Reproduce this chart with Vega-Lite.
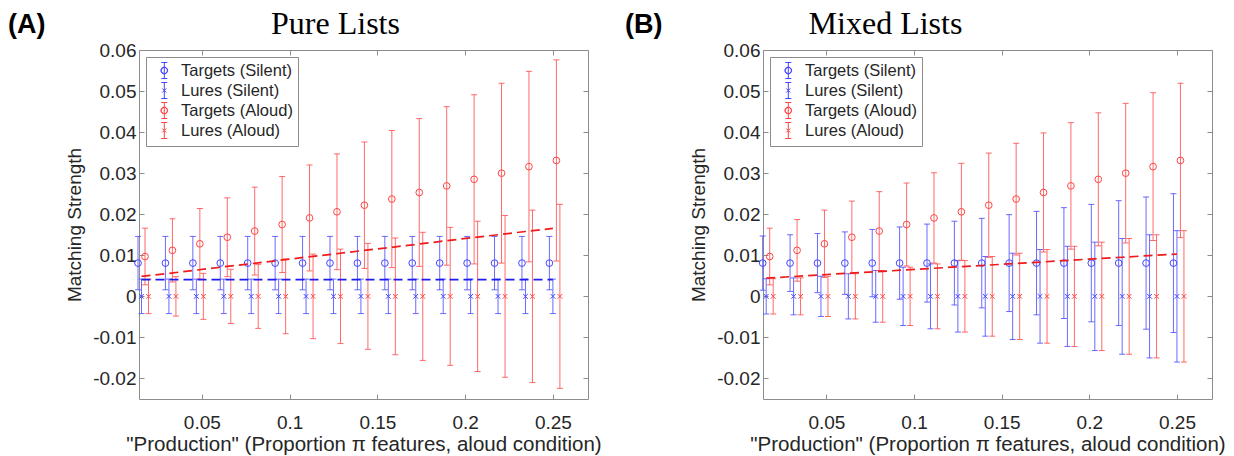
{
  "$schema": "https://vega.github.io/schema/vega-lite/v6.json",
  "padding": {"left": 7, "top": 6, "right": 0, "bottom": 0},
  "spacing": 19,
  "config": {
    "font": "Liberation Sans",
    "view": {"stroke": "#8c8c8c", "strokeWidth": 1},
    "axis": {"domain": false, "grid": false, "tickSize": -5, "tickColor": "#8c8c8c", "labelFont": "Liberation Sans", "labelFontSize": 19, "labelColor": "#262626", "titleFont": "Liberation Sans", "titleFontSize": 19, "titleFontWeight": "normal", "titleColor": "#262626"}
  },
  "resolve": {"scale": {"color": "independent", "shape": "independent", "stroke": "independent"}, "legend": {"color": "independent", "shape": "independent"}},
  "datasets": {
    "pts": [
      {"p":"A","s":"TS","x":0.015625,"m":0.0081,"lo":0.0016,"hi":0.0146},
      {"p":"A","s":"TS","x":0.03125,"m":0.0081,"lo":0.0016,"hi":0.0146},
      {"p":"A","s":"TS","x":0.046875,"m":0.0081,"lo":0.0016,"hi":0.0146},
      {"p":"A","s":"TS","x":0.0625,"m":0.0081,"lo":0.0016,"hi":0.0146},
      {"p":"A","s":"TS","x":0.078125,"m":0.0081,"lo":0.0016,"hi":0.0146},
      {"p":"A","s":"TS","x":0.09375,"m":0.0081,"lo":0.0016,"hi":0.0146},
      {"p":"A","s":"TS","x":0.109375,"m":0.0081,"lo":0.0016,"hi":0.0146},
      {"p":"A","s":"TS","x":0.125,"m":0.0081,"lo":0.0016,"hi":0.0146},
      {"p":"A","s":"TS","x":0.140625,"m":0.0081,"lo":0.0016,"hi":0.0146},
      {"p":"A","s":"TS","x":0.15625,"m":0.0081,"lo":0.0016,"hi":0.0146},
      {"p":"A","s":"TS","x":0.171875,"m":0.0081,"lo":0.0016,"hi":0.0146},
      {"p":"A","s":"TS","x":0.1875,"m":0.0081,"lo":0.0016,"hi":0.0146},
      {"p":"A","s":"TS","x":0.203125,"m":0.0081,"lo":0.0016,"hi":0.0146},
      {"p":"A","s":"TS","x":0.21875,"m":0.0081,"lo":0.0016,"hi":0.0146},
      {"p":"A","s":"TS","x":0.234375,"m":0.0081,"lo":0.0016,"hi":0.0146},
      {"p":"A","s":"TS","x":0.25,"m":0.0081,"lo":0.0016,"hi":0.0146},
      {"p":"A","s":"LS","x":0.015625,"m":0,"lo":-0.0042,"hi":0.0042},
      {"p":"A","s":"LS","x":0.03125,"m":0,"lo":-0.0042,"hi":0.0042},
      {"p":"A","s":"LS","x":0.046875,"m":0,"lo":-0.0042,"hi":0.0042},
      {"p":"A","s":"LS","x":0.0625,"m":0,"lo":-0.0042,"hi":0.0042},
      {"p":"A","s":"LS","x":0.078125,"m":0,"lo":-0.0042,"hi":0.0042},
      {"p":"A","s":"LS","x":0.09375,"m":0,"lo":-0.0042,"hi":0.0042},
      {"p":"A","s":"LS","x":0.109375,"m":0,"lo":-0.0042,"hi":0.0042},
      {"p":"A","s":"LS","x":0.125,"m":0,"lo":-0.0042,"hi":0.0042},
      {"p":"A","s":"LS","x":0.140625,"m":0,"lo":-0.0042,"hi":0.0042},
      {"p":"A","s":"LS","x":0.15625,"m":0,"lo":-0.0042,"hi":0.0042},
      {"p":"A","s":"LS","x":0.171875,"m":0,"lo":-0.0042,"hi":0.0042},
      {"p":"A","s":"LS","x":0.1875,"m":0,"lo":-0.0042,"hi":0.0042},
      {"p":"A","s":"LS","x":0.203125,"m":0,"lo":-0.0042,"hi":0.0042},
      {"p":"A","s":"LS","x":0.21875,"m":0,"lo":-0.0042,"hi":0.0042},
      {"p":"A","s":"LS","x":0.234375,"m":0,"lo":-0.0042,"hi":0.0042},
      {"p":"A","s":"LS","x":0.25,"m":0,"lo":-0.0042,"hi":0.0042},
      {"p":"A","s":"TA","x":0.015625,"m":0.0097,"lo":0.0028,"hi":0.0166},
      {"p":"A","s":"TA","x":0.03125,"m":0.0112,"lo":0.0035,"hi":0.0189},
      {"p":"A","s":"TA","x":0.046875,"m":0.0128,"lo":0.0042,"hi":0.0214},
      {"p":"A","s":"TA","x":0.0625,"m":0.0144,"lo":0.0048,"hi":0.0240},
      {"p":"A","s":"TA","x":0.078125,"m":0.0159,"lo":0.0052,"hi":0.0266},
      {"p":"A","s":"TA","x":0.09375,"m":0.0175,"lo":0.0058,"hi":0.0292},
      {"p":"A","s":"TA","x":0.109375,"m":0.0191,"lo":0.0062,"hi":0.0320},
      {"p":"A","s":"TA","x":0.125,"m":0.0206,"lo":0.0065,"hi":0.0347},
      {"p":"A","s":"TA","x":0.140625,"m":0.0222,"lo":0.0068,"hi":0.0376},
      {"p":"A","s":"TA","x":0.15625,"m":0.0237,"lo":0.0070,"hi":0.0404},
      {"p":"A","s":"TA","x":0.171875,"m":0.0253,"lo":0.0073,"hi":0.0433},
      {"p":"A","s":"TA","x":0.1875,"m":0.0269,"lo":0.0076,"hi":0.0462},
      {"p":"A","s":"TA","x":0.203125,"m":0.0285,"lo":0.0079,"hi":0.0491},
      {"p":"A","s":"TA","x":0.21875,"m":0.0300,"lo":0.0081,"hi":0.0519},
      {"p":"A","s":"TA","x":0.234375,"m":0.0316,"lo":0.0084,"hi":0.0548},
      {"p":"A","s":"TA","x":0.25,"m":0.0331,"lo":0.0086,"hi":0.0576},
      {"p":"A","s":"LA","x":0.015625,"m":0,"lo":-0.0042,"hi":0.0042},
      {"p":"A","s":"LA","x":0.03125,"m":0,"lo":-0.0048,"hi":0.0048},
      {"p":"A","s":"LA","x":0.046875,"m":0,"lo":-0.0056,"hi":0.0056},
      {"p":"A","s":"LA","x":0.0625,"m":0,"lo":-0.0066,"hi":0.0066},
      {"p":"A","s":"LA","x":0.078125,"m":0,"lo":-0.0078,"hi":0.0078},
      {"p":"A","s":"LA","x":0.09375,"m":0,"lo":-0.0091,"hi":0.0091},
      {"p":"A","s":"LA","x":0.109375,"m":0,"lo":-0.0103,"hi":0.0103},
      {"p":"A","s":"LA","x":0.125,"m":0,"lo":-0.0115,"hi":0.0115},
      {"p":"A","s":"LA","x":0.140625,"m":0,"lo":-0.0129,"hi":0.0129},
      {"p":"A","s":"LA","x":0.15625,"m":0,"lo":-0.0142,"hi":0.0142},
      {"p":"A","s":"LA","x":0.171875,"m":0,"lo":-0.0156,"hi":0.0156},
      {"p":"A","s":"LA","x":0.1875,"m":0,"lo":-0.0168,"hi":0.0168},
      {"p":"A","s":"LA","x":0.203125,"m":0,"lo":-0.0183,"hi":0.0183},
      {"p":"A","s":"LA","x":0.21875,"m":0,"lo":-0.0197,"hi":0.0197},
      {"p":"A","s":"LA","x":0.234375,"m":0,"lo":-0.0210,"hi":0.0210},
      {"p":"A","s":"LA","x":0.25,"m":0,"lo":-0.0224,"hi":0.0224},
      {"p":"B","s":"TS","x":0.015625,"m":0.0081,"lo":0.0015,"hi":0.0147},
      {"p":"B","s":"TS","x":0.03125,"m":0.0081,"lo":0.0012,"hi":0.0150},
      {"p":"B","s":"TS","x":0.046875,"m":0.0081,"lo":0.0009,"hi":0.0153},
      {"p":"B","s":"TS","x":0.0625,"m":0.0081,"lo":0.0005,"hi":0.0157},
      {"p":"B","s":"TS","x":0.078125,"m":0.0081,"lo":-0.0001,"hi":0.0163},
      {"p":"B","s":"TS","x":0.09375,"m":0.0081,"lo":-0.0007,"hi":0.0169},
      {"p":"B","s":"TS","x":0.109375,"m":0.0081,"lo":-0.0014,"hi":0.0176},
      {"p":"B","s":"TS","x":0.125,"m":0.0081,"lo":-0.0021,"hi":0.0183},
      {"p":"B","s":"TS","x":0.140625,"m":0.0081,"lo":-0.0028,"hi":0.0190},
      {"p":"B","s":"TS","x":0.15625,"m":0.0081,"lo":-0.0037,"hi":0.0199},
      {"p":"B","s":"TS","x":0.171875,"m":0.0081,"lo":-0.0045,"hi":0.0207},
      {"p":"B","s":"TS","x":0.1875,"m":0.0081,"lo":-0.0054,"hi":0.0216},
      {"p":"B","s":"TS","x":0.203125,"m":0.0081,"lo":-0.0062,"hi":0.0224},
      {"p":"B","s":"TS","x":0.21875,"m":0.0081,"lo":-0.0071,"hi":0.0233},
      {"p":"B","s":"TS","x":0.234375,"m":0.0081,"lo":-0.0080,"hi":0.0242},
      {"p":"B","s":"TS","x":0.25,"m":0.0081,"lo":-0.0088,"hi":0.0250},
      {"p":"B","s":"LS","x":0.015625,"m":0,"lo":-0.0043,"hi":0.0043},
      {"p":"B","s":"LS","x":0.03125,"m":0,"lo":-0.0045,"hi":0.0045},
      {"p":"B","s":"LS","x":0.046875,"m":0,"lo":-0.0049,"hi":0.0049},
      {"p":"B","s":"LS","x":0.0625,"m":0,"lo":-0.0055,"hi":0.0055},
      {"p":"B","s":"LS","x":0.078125,"m":0,"lo":-0.0063,"hi":0.0063},
      {"p":"B","s":"LS","x":0.09375,"m":0,"lo":-0.0071,"hi":0.0071},
      {"p":"B","s":"LS","x":0.109375,"m":0,"lo":-0.0079,"hi":0.0079},
      {"p":"B","s":"LS","x":0.125,"m":0,"lo":-0.0087,"hi":0.0087},
      {"p":"B","s":"LS","x":0.140625,"m":0,"lo":-0.0097,"hi":0.0097},
      {"p":"B","s":"LS","x":0.15625,"m":0,"lo":-0.0105,"hi":0.0105},
      {"p":"B","s":"LS","x":0.171875,"m":0,"lo":-0.0114,"hi":0.0114},
      {"p":"B","s":"LS","x":0.1875,"m":0,"lo":-0.0122,"hi":0.0122},
      {"p":"B","s":"LS","x":0.203125,"m":0,"lo":-0.0132,"hi":0.0132},
      {"p":"B","s":"LS","x":0.21875,"m":0,"lo":-0.0141,"hi":0.0141},
      {"p":"B","s":"LS","x":0.234375,"m":0,"lo":-0.0150,"hi":0.0150},
      {"p":"B","s":"LS","x":0.25,"m":0,"lo":-0.0160,"hi":0.0160},
      {"p":"B","s":"TA","x":0.015625,"m":0.0097,"lo":0.0028,"hi":0.0166},
      {"p":"B","s":"TA","x":0.03125,"m":0.0112,"lo":0.0037,"hi":0.0187},
      {"p":"B","s":"TA","x":0.046875,"m":0.0128,"lo":0.0046,"hi":0.0210},
      {"p":"B","s":"TA","x":0.0625,"m":0.0144,"lo":0.0056,"hi":0.0232},
      {"p":"B","s":"TA","x":0.078125,"m":0.0159,"lo":0.0063,"hi":0.0255},
      {"p":"B","s":"TA","x":0.09375,"m":0.0175,"lo":0.0074,"hi":0.0276},
      {"p":"B","s":"TA","x":0.109375,"m":0.0191,"lo":0.0081,"hi":0.0301},
      {"p":"B","s":"TA","x":0.125,"m":0.0206,"lo":0.0088,"hi":0.0324},
      {"p":"B","s":"TA","x":0.140625,"m":0.0222,"lo":0.0095,"hi":0.0349},
      {"p":"B","s":"TA","x":0.15625,"m":0.0237,"lo":0.0101,"hi":0.0373},
      {"p":"B","s":"TA","x":0.171875,"m":0.0253,"lo":0.0108,"hi":0.0398},
      {"p":"B","s":"TA","x":0.1875,"m":0.0269,"lo":0.0115,"hi":0.0423},
      {"p":"B","s":"TA","x":0.203125,"m":0.0285,"lo":0.0123,"hi":0.0447},
      {"p":"B","s":"TA","x":0.21875,"m":0.0300,"lo":0.0130,"hi":0.0470},
      {"p":"B","s":"TA","x":0.234375,"m":0.0316,"lo":0.0136,"hi":0.0496},
      {"p":"B","s":"TA","x":0.25,"m":0.0331,"lo":0.0143,"hi":0.0519},
      {"p":"B","s":"LA","x":0.015625,"m":0,"lo":-0.0043,"hi":0.0043},
      {"p":"B","s":"LA","x":0.03125,"m":0,"lo":-0.0045,"hi":0.0045},
      {"p":"B","s":"LA","x":0.046875,"m":0,"lo":-0.0049,"hi":0.0049},
      {"p":"B","s":"LA","x":0.0625,"m":0,"lo":-0.0055,"hi":0.0055},
      {"p":"B","s":"LA","x":0.078125,"m":0,"lo":-0.0063,"hi":0.0063},
      {"p":"B","s":"LA","x":0.09375,"m":0,"lo":-0.0071,"hi":0.0071},
      {"p":"B","s":"LA","x":0.109375,"m":0,"lo":-0.0079,"hi":0.0079},
      {"p":"B","s":"LA","x":0.125,"m":0,"lo":-0.0087,"hi":0.0087},
      {"p":"B","s":"LA","x":0.140625,"m":0,"lo":-0.0097,"hi":0.0097},
      {"p":"B","s":"LA","x":0.15625,"m":0,"lo":-0.0105,"hi":0.0105},
      {"p":"B","s":"LA","x":0.171875,"m":0,"lo":-0.0114,"hi":0.0114},
      {"p":"B","s":"LA","x":0.1875,"m":0,"lo":-0.0122,"hi":0.0122},
      {"p":"B","s":"LA","x":0.203125,"m":0,"lo":-0.0132,"hi":0.0132},
      {"p":"B","s":"LA","x":0.21875,"m":0,"lo":-0.0141,"hi":0.0141},
      {"p":"B","s":"LA","x":0.234375,"m":0,"lo":-0.0150,"hi":0.0150},
      {"p":"B","s":"LA","x":0.25,"m":0,"lo":-0.0160,"hi":0.0160}
    ],
    "crit": [
      {"p":"A","s":"TS","x":0.015625,"c":0.00405},
      {"p":"A","s":"TS","x":0.25,"c":0.00405},
      {"p":"A","s":"TA","x":0.015625,"c":0.00485},
      {"p":"A","s":"TA","x":0.03125,"c":0.0056},
      {"p":"A","s":"TA","x":0.046875,"c":0.0064},
      {"p":"A","s":"TA","x":0.0625,"c":0.0072},
      {"p":"A","s":"TA","x":0.078125,"c":0.00795},
      {"p":"A","s":"TA","x":0.09375,"c":0.00875},
      {"p":"A","s":"TA","x":0.109375,"c":0.00955},
      {"p":"A","s":"TA","x":0.125,"c":0.0103},
      {"p":"A","s":"TA","x":0.140625,"c":0.0111},
      {"p":"A","s":"TA","x":0.15625,"c":0.01185},
      {"p":"A","s":"TA","x":0.171875,"c":0.01265},
      {"p":"A","s":"TA","x":0.1875,"c":0.01345},
      {"p":"A","s":"TA","x":0.203125,"c":0.01425},
      {"p":"A","s":"TA","x":0.21875,"c":0.015},
      {"p":"A","s":"TA","x":0.234375,"c":0.0158},
      {"p":"A","s":"TA","x":0.25,"c":0.01655},
      {"p":"B","s":"TA","x":0.015625,"c":0.00445},
      {"p":"B","s":"TA","x":0.03125,"c":0.00483},
      {"p":"B","s":"TA","x":0.046875,"c":0.00523},
      {"p":"B","s":"TA","x":0.0625,"c":0.00563},
      {"p":"B","s":"TA","x":0.078125,"c":0.006},
      {"p":"B","s":"TA","x":0.09375,"c":0.0064},
      {"p":"B","s":"TA","x":0.109375,"c":0.0068},
      {"p":"B","s":"TA","x":0.125,"c":0.00718},
      {"p":"B","s":"TA","x":0.140625,"c":0.00758},
      {"p":"B","s":"TA","x":0.15625,"c":0.00795},
      {"p":"B","s":"TA","x":0.171875,"c":0.00835},
      {"p":"B","s":"TA","x":0.1875,"c":0.00875},
      {"p":"B","s":"TA","x":0.203125,"c":0.00915},
      {"p":"B","s":"TA","x":0.21875,"c":0.00953},
      {"p":"B","s":"TA","x":0.234375,"c":0.00993},
      {"p":"B","s":"TA","x":0.25,"c":0.0103}
    ]
  },
  "hconcat": [
    {
      "width": 449, "height": 349,
      "title": {"text": "(A)", "anchor": "start", "frame": "bounds", "font": "Liberation Sans", "fontSize": 27, "fontWeight": "bold", "color": "#000000", "dx": -57, "dy": 32, "offset": 0},
      "encoding": {
        "x": {"field": "x", "type": "quantitative", "scale": {"domain": [0.0142, 0.27], "nice": false, "zero": false}, "axis": null},
        "y": {"field": "m", "type": "quantitative", "scale": {"domain": [-0.025, 0.06], "nice": false, "zero": false}, "axis": null},
        "color": {"field": "s", "type": "nominal", "scale": {"domain": ["TS", "LS", "TA", "LA"], "range": ["#4545ff", "#4545ff", "#ff4545", "#ff4545"]}, "legend": null}
      },
      "layer": [
        {
          "data": {"name": "pts"},
          "transform": [{"filter": "datum.p == 'A'"}],
          "mark": {"type": "point", "opacity": 0, "filled": false},
          "encoding": {
            "x": {"field": "x", "type": "quantitative", "axis": {"orient": "top", "values": [0.05, 0.1, 0.15, 0.2, 0.25], "labels": false, "minExtent": 0, "maxExtent": 0, "title": "Pure Lists", "titleFont": "Liberation Serif", "titleFontSize": 32, "titleColor": "#000000", "titlePadding": 10, "titleX": 196}},
            "y": {"field": "m", "type": "quantitative", "axis": {"orient": "right", "values": [-0.02, -0.01, 0, 0.01, 0.02, 0.03, 0.04, 0.05, 0.06], "labels": false, "minExtent": 0, "maxExtent": 0, "title": null}},
            "color": {"field": "s", "type": "nominal", "scale": {"domain": ["TS", "LS", "TA", "LA"], "range": ["#4545ff", "#4545ff", "#ff4545", "#ff4545"]},
              "legend": {"title": null, "orient": "top-left", "offset": 7, "padding": 5, "strokeColor": "#8c8c8c", "fillColor": "#ffffff", "labelFont": "Liberation Sans", "labelFontSize": 16.5, "labelColor": "#262626", "labelOffset": 13, "symbolSize": 256, "symbolStrokeWidth": 1, "symbolOpacity": 1, "rowPadding": -1,
                "labelExpr": "datum.label == 'TS' ? 'Targets (Silent)' : datum.label == 'LS' ? 'Lures (Silent)' : datum.label == 'TA' ? 'Targets (Aloud)' : 'Lures (Aloud)'"}},
            "shape": {"field": "s", "type": "nominal", "scale": {"domain": ["TS", "LS", "TA", "LA"], "range": [
                "M0.6,-1L0.6,1M0.225,-1L0.975,-1M0.225,1L0.975,1M1.02,0A0.42,0.42,0,1,1,0.18,0A0.42,0.42,0,1,1,1.02,0M0.98,0A0.38,0.38,0,1,0,0.22,0A0.38,0.38,0,1,0,0.98,0",
                "M0.6,-1L0.6,1M0.225,-1L0.975,-1M0.225,1L0.975,1M0.35,-0.25L0.85,0.25M0.35,0.25L0.85,-0.25",
                "M0.6,-1L0.6,1M0.225,-1L0.975,-1M0.225,1L0.975,1M1.02,0A0.42,0.42,0,1,1,0.18,0A0.42,0.42,0,1,1,1.02,0M0.98,0A0.38,0.38,0,1,0,0.22,0A0.38,0.38,0,1,0,0.98,0",
                "M0.6,-1L0.6,1M0.225,-1L0.975,-1M0.225,1L0.975,1M0.35,-0.25L0.85,0.25M0.35,0.25L0.85,-0.25"]},
              "legend": {"title": null, "orient": "top-left", "offset": 7, "padding": 5, "strokeColor": "#8c8c8c", "fillColor": "#ffffff", "labelFont": "Liberation Sans", "labelFontSize": 16.5, "labelColor": "#262626", "labelOffset": 13, "symbolSize": 256, "symbolStrokeWidth": 1, "symbolOpacity": 1, "rowPadding": -1,
                "labelExpr": "datum.label == 'TS' ? 'Targets (Silent)' : datum.label == 'LS' ? 'Lures (Silent)' : datum.label == 'TA' ? 'Targets (Aloud)' : 'Lures (Aloud)'"}}
          }
        },
        {
          "data": {"name": "pts"},
          "transform": [{"filter": "datum.p == 'A'"}],
          "mark": {"type": "point", "opacity": 0, "filled": false},
          "encoding": {
            "x": {"field": "x", "type": "quantitative", "axis": {"orient": "bottom", "values": [0.05, 0.1, 0.15, 0.2, 0.25], "format": ".2~f", "labelPadding": 19, "title": "\"Production\" (Proportion  π features, aloud condition)", "titleFontSize": 20.5, "titlePadding": 2}},
            "y": {"field": "m", "type": "quantitative", "axis": {"orient": "left", "values": [-0.02, -0.01, 0, 0.01, 0.02, 0.03, 0.04, 0.05, 0.06], "labelExpr": "datum.value < 0 ? '-' + format(-datum.value, '.2~f') : format(datum.value, '.2~f')", "labelPadding": 8, "minExtent": 50, "maxExtent": 50, "title": "Matching Strength", "titlePadding": 5}}
          }
        },
        {
          "data": {"name": "pts"},
          "transform": [{"filter": "datum.p == 'A' && datum.s == 'TS'"}],
          "layer": [
            {"mark": {"type": "rule", "xOffset": -3.5, "strokeWidth": 1, "opacity": 0.8}, "encoding": {"y": {"field": "lo", "type": "quantitative"}, "y2": {"field": "hi"}}},
            {"mark": {"type": "tick", "orient": "horizontal", "xOffset": -3.5, "size": 6, "thickness": 1, "opacity": 0.8}, "encoding": {"y": {"field": "lo", "type": "quantitative"}}},
            {"mark": {"type": "tick", "orient": "horizontal", "xOffset": -3.5, "size": 6, "thickness": 1, "opacity": 0.8}, "encoding": {"y": {"field": "hi", "type": "quantitative"}}},
            {"mark": {"type": "point", "shape": "circle", "filled": false, "size": 45, "strokeWidth": 1, "opacity": 1, "xOffset": -3.5}}
          ]
        },
        {
          "data": {"name": "pts"},
          "transform": [{"filter": "datum.p == 'A' && datum.s == 'LS'"}],
          "layer": [
            {"mark": {"type": "rule", "xOffset": 0, "strokeWidth": 1, "opacity": 0.8}, "encoding": {"y": {"field": "lo", "type": "quantitative"}, "y2": {"field": "hi"}}},
            {"mark": {"type": "tick", "orient": "horizontal", "xOffset": 0, "size": 6, "thickness": 1, "opacity": 0.8}, "encoding": {"y": {"field": "lo", "type": "quantitative"}}},
            {"mark": {"type": "tick", "orient": "horizontal", "xOffset": 0, "size": 6, "thickness": 1, "opacity": 0.8}, "encoding": {"y": {"field": "hi", "type": "quantitative"}}},
            {"mark": {"type": "point", "shape": "M-1,-1L1,1M-1,1L1,-1", "filled": false, "size": 22, "strokeWidth": 1, "opacity": 1, "xOffset": 0}}
          ]
        },
        {
          "data": {"name": "pts"},
          "transform": [{"filter": "datum.p == 'A' && datum.s == 'TA'"}],
          "layer": [
            {"mark": {"type": "rule", "xOffset": 3.5, "strokeWidth": 1, "opacity": 0.8}, "encoding": {"y": {"field": "lo", "type": "quantitative"}, "y2": {"field": "hi"}}},
            {"mark": {"type": "tick", "orient": "horizontal", "xOffset": 3.5, "size": 6, "thickness": 1, "opacity": 0.8}, "encoding": {"y": {"field": "lo", "type": "quantitative"}}},
            {"mark": {"type": "tick", "orient": "horizontal", "xOffset": 3.5, "size": 6, "thickness": 1, "opacity": 0.8}, "encoding": {"y": {"field": "hi", "type": "quantitative"}}},
            {"mark": {"type": "point", "shape": "circle", "filled": false, "size": 45, "strokeWidth": 1, "opacity": 1, "xOffset": 3.5}}
          ]
        },
        {
          "data": {"name": "pts"},
          "transform": [{"filter": "datum.p == 'A' && datum.s == 'LA'"}],
          "layer": [
            {"mark": {"type": "rule", "xOffset": 7, "strokeWidth": 1, "opacity": 0.8}, "encoding": {"y": {"field": "lo", "type": "quantitative"}, "y2": {"field": "hi"}}},
            {"mark": {"type": "tick", "orient": "horizontal", "xOffset": 7, "size": 6, "thickness": 1, "opacity": 0.8}, "encoding": {"y": {"field": "lo", "type": "quantitative"}}},
            {"mark": {"type": "tick", "orient": "horizontal", "xOffset": 7, "size": 6, "thickness": 1, "opacity": 0.8}, "encoding": {"y": {"field": "hi", "type": "quantitative"}}},
            {"mark": {"type": "point", "shape": "M-1,-1L1,1M-1,1L1,-1", "filled": false, "size": 22, "strokeWidth": 1, "opacity": 1, "xOffset": 7}}
          ]
        },
        {
          "data": {"name": "crit"},
          "transform": [{"filter": "datum.p == 'A'"}],
          "mark": {"type": "line", "strokeDash": [9, 5], "strokeWidth": 1.7},
          "encoding": {
            "y": {"field": "c", "type": "quantitative"},
            "stroke": {"field": "s", "type": "nominal", "scale": {"domain": ["TS", "TA"], "range": ["#1c1cf0", "#ee1c1c"]}, "legend": null}
          }
        }
      ]
    },
    {
      "width": 449, "height": 349,
      "title": {"text": "(B)", "anchor": "start", "frame": "bounds", "font": "Liberation Sans", "fontSize": 27, "fontWeight": "bold", "color": "#000000", "dx": -64, "dy": 32, "offset": 0},
      "encoding": {
        "x": {"field": "x", "type": "quantitative", "scale": {"domain": [0.0138, 0.27], "nice": false, "zero": false}, "axis": null},
        "y": {"field": "m", "type": "quantitative", "scale": {"domain": [-0.025, 0.06], "nice": false, "zero": false}, "axis": null},
        "color": {"field": "s", "type": "nominal", "scale": {"domain": ["TS", "LS", "TA", "LA"], "range": ["#4545ff", "#4545ff", "#ff4545", "#ff4545"]}, "legend": null}
      },
      "layer": [
        {
          "data": {"name": "pts"},
          "transform": [{"filter": "datum.p == 'B'"}],
          "mark": {"type": "point", "opacity": 0, "filled": false},
          "encoding": {
            "x": {"field": "x", "type": "quantitative", "axis": {"orient": "top", "values": [0.05, 0.1, 0.15, 0.2, 0.25], "labels": false, "minExtent": 0, "maxExtent": 0, "title": "Mixed Lists", "titleFont": "Liberation Serif", "titleFontSize": 32, "titleColor": "#000000", "titlePadding": 10, "titleX": 122}},
            "y": {"field": "m", "type": "quantitative", "axis": {"orient": "right", "values": [-0.02, -0.01, 0, 0.01, 0.02, 0.03, 0.04, 0.05, 0.06], "labels": false, "minExtent": 0, "maxExtent": 0, "title": null}},
            "color": {"field": "s", "type": "nominal", "scale": {"domain": ["TS", "LS", "TA", "LA"], "range": ["#4545ff", "#4545ff", "#ff4545", "#ff4545"]},
              "legend": {"title": null, "orient": "top-left", "offset": 7, "padding": 5, "strokeColor": "#8c8c8c", "fillColor": "#ffffff", "labelFont": "Liberation Sans", "labelFontSize": 16.5, "labelColor": "#262626", "labelOffset": 13, "symbolSize": 256, "symbolStrokeWidth": 1, "symbolOpacity": 1, "rowPadding": -1,
                "labelExpr": "datum.label == 'TS' ? 'Targets (Silent)' : datum.label == 'LS' ? 'Lures (Silent)' : datum.label == 'TA' ? 'Targets (Aloud)' : 'Lures (Aloud)'"}},
            "shape": {"field": "s", "type": "nominal", "scale": {"domain": ["TS", "LS", "TA", "LA"], "range": [
                "M0.6,-1L0.6,1M0.225,-1L0.975,-1M0.225,1L0.975,1M1.02,0A0.42,0.42,0,1,1,0.18,0A0.42,0.42,0,1,1,1.02,0M0.98,0A0.38,0.38,0,1,0,0.22,0A0.38,0.38,0,1,0,0.98,0",
                "M0.6,-1L0.6,1M0.225,-1L0.975,-1M0.225,1L0.975,1M0.35,-0.25L0.85,0.25M0.35,0.25L0.85,-0.25",
                "M0.6,-1L0.6,1M0.225,-1L0.975,-1M0.225,1L0.975,1M1.02,0A0.42,0.42,0,1,1,0.18,0A0.42,0.42,0,1,1,1.02,0M0.98,0A0.38,0.38,0,1,0,0.22,0A0.38,0.38,0,1,0,0.98,0",
                "M0.6,-1L0.6,1M0.225,-1L0.975,-1M0.225,1L0.975,1M0.35,-0.25L0.85,0.25M0.35,0.25L0.85,-0.25"]},
              "legend": {"title": null, "orient": "top-left", "offset": 7, "padding": 5, "strokeColor": "#8c8c8c", "fillColor": "#ffffff", "labelFont": "Liberation Sans", "labelFontSize": 16.5, "labelColor": "#262626", "labelOffset": 13, "symbolSize": 256, "symbolStrokeWidth": 1, "symbolOpacity": 1, "rowPadding": -1,
                "labelExpr": "datum.label == 'TS' ? 'Targets (Silent)' : datum.label == 'LS' ? 'Lures (Silent)' : datum.label == 'TA' ? 'Targets (Aloud)' : 'Lures (Aloud)'"}}
          }
        },
        {
          "data": {"name": "pts"},
          "transform": [{"filter": "datum.p == 'B'"}],
          "mark": {"type": "point", "opacity": 0, "filled": false},
          "encoding": {
            "x": {"field": "x", "type": "quantitative", "axis": {"orient": "bottom", "values": [0.05, 0.1, 0.15, 0.2, 0.25], "format": ".2~f", "labelPadding": 19, "title": "\"Production\" (Proportion  π features, aloud condition)", "titleFontSize": 20.5, "titlePadding": 2}},
            "y": {"field": "m", "type": "quantitative", "axis": {"orient": "left", "values": [-0.02, -0.01, 0, 0.01, 0.02, 0.03, 0.04, 0.05, 0.06], "labelExpr": "datum.value < 0 ? '-' + format(-datum.value, '.2~f') : format(datum.value, '.2~f')", "labelPadding": 8, "minExtent": 50, "maxExtent": 50, "title": "Matching Strength", "titlePadding": 5}}
          }
        },
        {
          "data": {"name": "pts"},
          "transform": [{"filter": "datum.p == 'B' && datum.s == 'TS'"}],
          "layer": [
            {"mark": {"type": "rule", "xOffset": -3.5, "strokeWidth": 1, "opacity": 0.8}, "encoding": {"y": {"field": "lo", "type": "quantitative"}, "y2": {"field": "hi"}}},
            {"mark": {"type": "tick", "orient": "horizontal", "xOffset": -3.5, "size": 6, "thickness": 1, "opacity": 0.8}, "encoding": {"y": {"field": "lo", "type": "quantitative"}}},
            {"mark": {"type": "tick", "orient": "horizontal", "xOffset": -3.5, "size": 6, "thickness": 1, "opacity": 0.8}, "encoding": {"y": {"field": "hi", "type": "quantitative"}}},
            {"mark": {"type": "point", "shape": "circle", "filled": false, "size": 45, "strokeWidth": 1, "opacity": 1, "xOffset": -3.5}}
          ]
        },
        {
          "data": {"name": "pts"},
          "transform": [{"filter": "datum.p == 'B' && datum.s == 'LS'"}],
          "layer": [
            {"mark": {"type": "rule", "xOffset": 0, "strokeWidth": 1, "opacity": 0.8}, "encoding": {"y": {"field": "lo", "type": "quantitative"}, "y2": {"field": "hi"}}},
            {"mark": {"type": "tick", "orient": "horizontal", "xOffset": 0, "size": 6, "thickness": 1, "opacity": 0.8}, "encoding": {"y": {"field": "lo", "type": "quantitative"}}},
            {"mark": {"type": "tick", "orient": "horizontal", "xOffset": 0, "size": 6, "thickness": 1, "opacity": 0.8}, "encoding": {"y": {"field": "hi", "type": "quantitative"}}},
            {"mark": {"type": "point", "shape": "M-1,-1L1,1M-1,1L1,-1", "filled": false, "size": 22, "strokeWidth": 1, "opacity": 1, "xOffset": 0}}
          ]
        },
        {
          "data": {"name": "pts"},
          "transform": [{"filter": "datum.p == 'B' && datum.s == 'TA'"}],
          "layer": [
            {"mark": {"type": "rule", "xOffset": 3.5, "strokeWidth": 1, "opacity": 0.8}, "encoding": {"y": {"field": "lo", "type": "quantitative"}, "y2": {"field": "hi"}}},
            {"mark": {"type": "tick", "orient": "horizontal", "xOffset": 3.5, "size": 6, "thickness": 1, "opacity": 0.8}, "encoding": {"y": {"field": "lo", "type": "quantitative"}}},
            {"mark": {"type": "tick", "orient": "horizontal", "xOffset": 3.5, "size": 6, "thickness": 1, "opacity": 0.8}, "encoding": {"y": {"field": "hi", "type": "quantitative"}}},
            {"mark": {"type": "point", "shape": "circle", "filled": false, "size": 45, "strokeWidth": 1, "opacity": 1, "xOffset": 3.5}}
          ]
        },
        {
          "data": {"name": "pts"},
          "transform": [{"filter": "datum.p == 'B' && datum.s == 'LA'"}],
          "layer": [
            {"mark": {"type": "rule", "xOffset": 7, "strokeWidth": 1, "opacity": 0.8}, "encoding": {"y": {"field": "lo", "type": "quantitative"}, "y2": {"field": "hi"}}},
            {"mark": {"type": "tick", "orient": "horizontal", "xOffset": 7, "size": 6, "thickness": 1, "opacity": 0.8}, "encoding": {"y": {"field": "lo", "type": "quantitative"}}},
            {"mark": {"type": "tick", "orient": "horizontal", "xOffset": 7, "size": 6, "thickness": 1, "opacity": 0.8}, "encoding": {"y": {"field": "hi", "type": "quantitative"}}},
            {"mark": {"type": "point", "shape": "M-1,-1L1,1M-1,1L1,-1", "filled": false, "size": 22, "strokeWidth": 1, "opacity": 1, "xOffset": 7}}
          ]
        },
        {
          "data": {"name": "crit"},
          "transform": [{"filter": "datum.p == 'B'"}],
          "mark": {"type": "line", "strokeDash": [9, 5], "strokeWidth": 1.7},
          "encoding": {
            "y": {"field": "c", "type": "quantitative"},
            "stroke": {"field": "s", "type": "nominal", "scale": {"domain": ["TS", "TA"], "range": ["#1c1cf0", "#ee1c1c"]}, "legend": null}
          }
        }
      ]
    }
  ]
}
